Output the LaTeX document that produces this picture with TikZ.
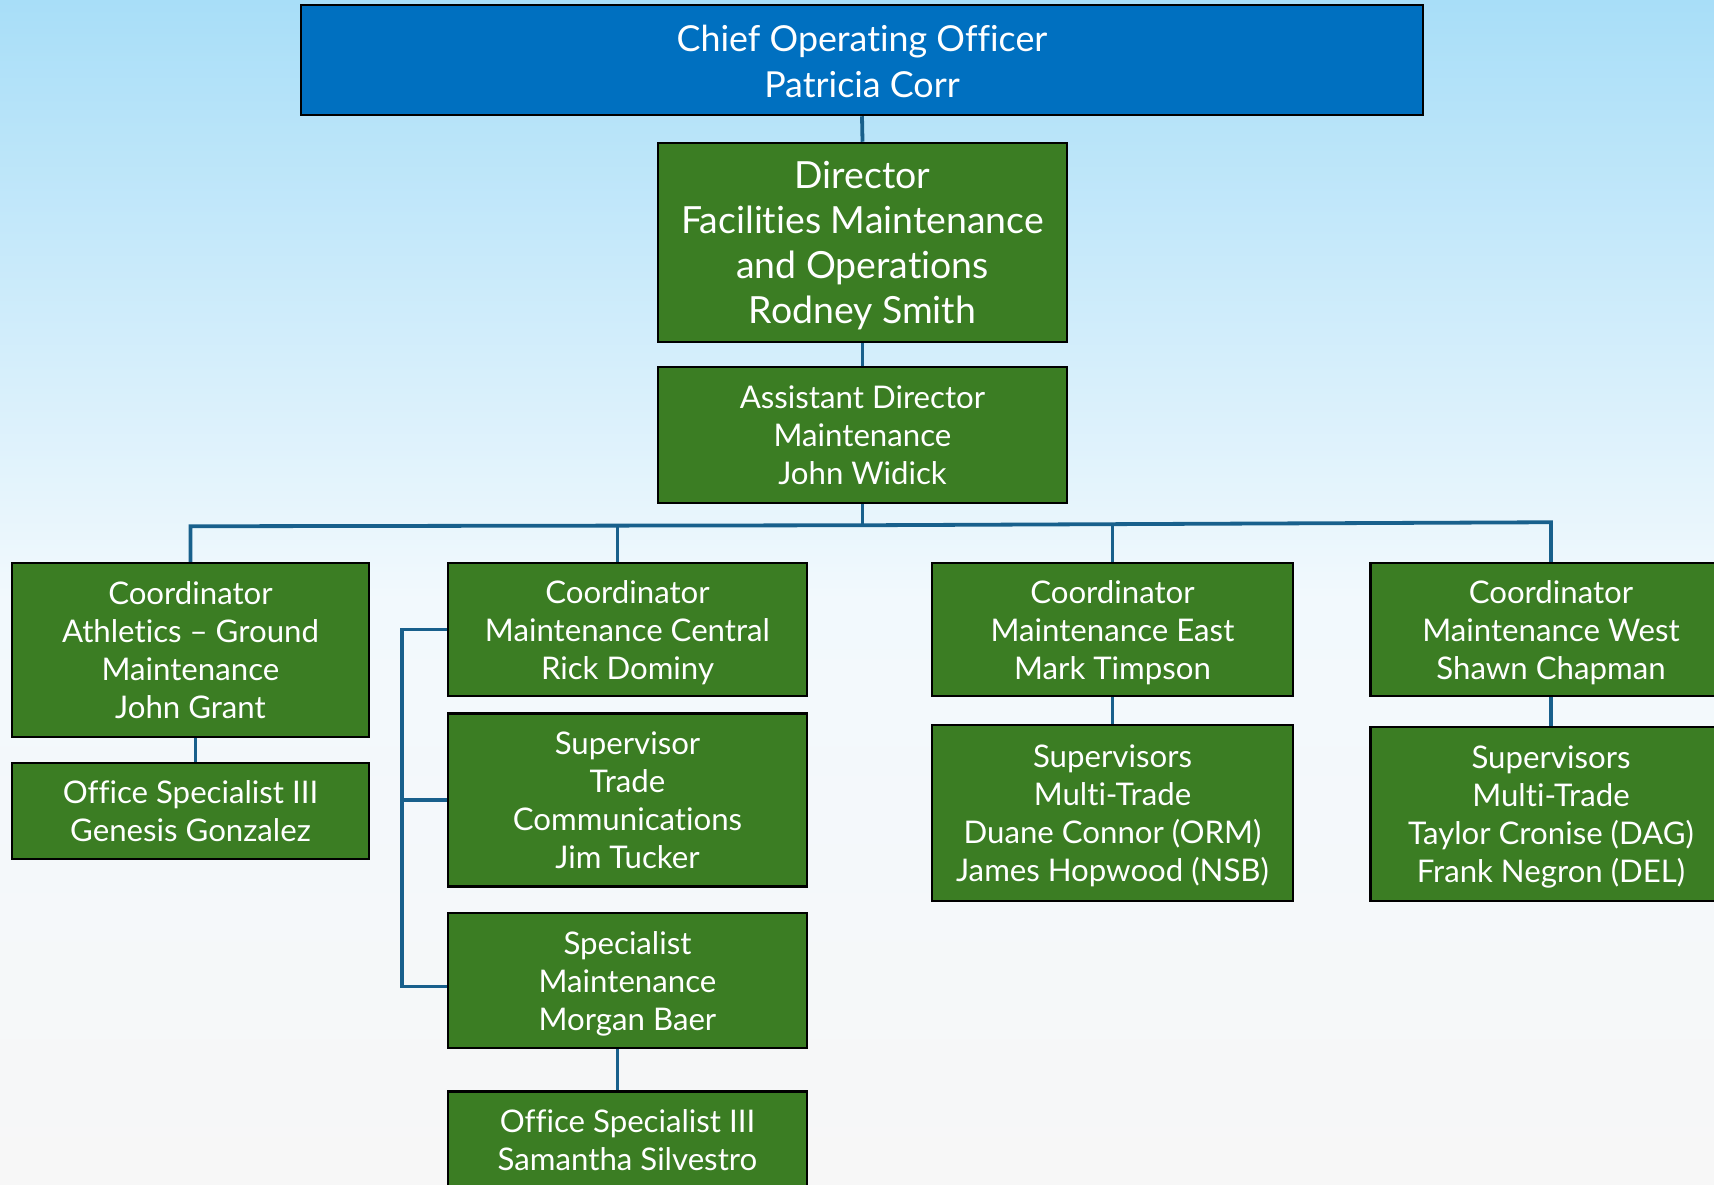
\documentclass[tikz,border=0pt]{standalone}
\usepackage{fontspec}
\setmainfont{Lato}[Ligatures=NoCommon]
\usetikzlibrary{calc}
\definecolor{boxgreen}{RGB}{59,125,35}
\definecolor{cooblue}{RGB}{0,112,192}
\definecolor{connblue}{RGB}{24,96,140}
\definecolor{skytop}{RGB}{168,222,248}
\definecolor{skymid}{RGB}{242,249,253}
\definecolor{skybot}{RGB}{247,247,247}
\newcommand{\boxtext}[1]{\raisebox{-0.105\baselineskip}[\height][\depth]{\begin{tabular}{@{}c@{}}#1\end{tabular}}}
\tikzset{
  gbox/.style={draw=black, line width=2.5pt, fill=boxgreen, text=white, inner sep=0pt,
    font=\fontsize{31.2}{38}\selectfont},
  dirbox/.style={gbox, font=\fontsize{37.4}{45}\selectfont},
  coobox/.style={gbox, fill=cooblue, font=\fontsize{35.8}{46}\selectfont},
  conn/.style={draw=connblue, line width=3.8pt}
}
\begin{document}
\begin{tikzpicture}[x=1pt,y=-1pt]
\useasboundingbox (0,0) rectangle (1714,1185);
\clip (0,0) rectangle (1714,1185);
\shade[top color=skytop, bottom color=skymid] (0,0) rectangle (1714,600);
\shade[top color=skymid, bottom color=skybot] (0,600) rectangle (1714,1185);

\node[coobox, minimum width=1122pt, minimum height=110pt] (coo) at (862,60) {\boxtext{Chief Operating Officer\\Patricia Corr}};
\node[dirbox, minimum width=409pt, minimum height=199pt] (dir) at (862.5,242.5) {\boxtext{Director\\Facilities Maintenance\\and Operations\\Rodney Smith}};
\node[gbox, minimum width=409pt, minimum height=136pt] (ad) at (862.5,435) {\boxtext{Assistant Director\\Maintenance\\John Widick}};

\node[gbox, minimum width=357pt, minimum height=174pt] (ca) at (190.5,650) {\boxtext{Coordinator\\Athletics – Ground\\Maintenance\\John Grant}};
\node[gbox, minimum width=357pt, minimum height=96pt] (os1) at (190.5,811) {\boxtext{Office Specialist III\\Genesis Gonzalez}};

\node[gbox, minimum width=359pt, minimum height=133pt] (cmc) at (627.5,629.5) {\boxtext{Coordinator\\Maintenance Central\\Rick Dominy}};
\node[gbox, minimum width=359pt, minimum height=173pt] (stc) at (627.5,800) {\boxtext{Supervisor\\Trade\\Communications\\Jim Tucker}};
\node[gbox, minimum width=359pt, minimum height=135pt] (sm) at (627.5,980.5) {\boxtext{Specialist\\Maintenance\\Morgan Baer}};
\node[gbox, minimum width=359pt, minimum height=96pt] (os2) at (627.5,1139.5) {\boxtext{Office Specialist III\\Samantha Silvestro}};

\node[gbox, minimum width=361pt, minimum height=133pt] (cme) at (1112.5,629.5) {\boxtext{Coordinator\\Maintenance East\\Mark Timpson}};
\node[gbox, minimum width=361pt, minimum height=176pt] (se) at (1112.5,813) {\boxtext{Supervisors\\Multi-Trade\\Duane Connor (ORM)\\James Hopwood (NSB)}};

\node[gbox, minimum width=361pt, minimum height=133pt] (cmw) at (1551,629.5) {\boxtext{Coordinator\\Maintenance West\\Shawn Chapman}};
\node[gbox, minimum width=361pt, minimum height=174pt] (sw) at (1551,814) {\boxtext{Supervisors\\Multi-Trade\\Taylor Cronise (DAG)\\Frank Negron (DEL)}};

% connectors
\draw[conn] (coo.south) -- (dir.north);
\draw[conn] (dir.south) -- (ad.north);
\draw[conn] (ad.south) -- ++(0,21) coordinate (busmid);
\draw[conn] (ca.north) -- ([yshift=-1pt]ca.north |- busmid) -- (busmid) -- ([yshift=3pt]cmw.north |- busmid) -- (cmw.north);
\draw[conn] ([xshift=-10pt]cmc.north) -- ([xshift=-10pt,yshift=-0.5pt]cmc.north |- busmid);
\draw[conn] (cme.north) -- ([yshift=1.5pt]cme.north |- busmid);
\draw[conn] ([xshift=5pt]ca.south) -- ([xshift=5pt]os1.north);
\draw[conn] (cme.south) -- (se.north);
\draw[conn] (cmw.south) -- (sw.north);
\draw[conn] ([xshift=-10pt]sm.south) -- ([xshift=-10pt]os2.north);
\draw[conn] (cmc.west) -- ++(-44.6,0) coordinate (bt) -- ([yshift=-6pt]bt |- sm.west) -- ([yshift=-6pt]sm.west);
\draw[conn] (stc.west) -- (stc.west -| bt);
\end{tikzpicture}
\end{document}
